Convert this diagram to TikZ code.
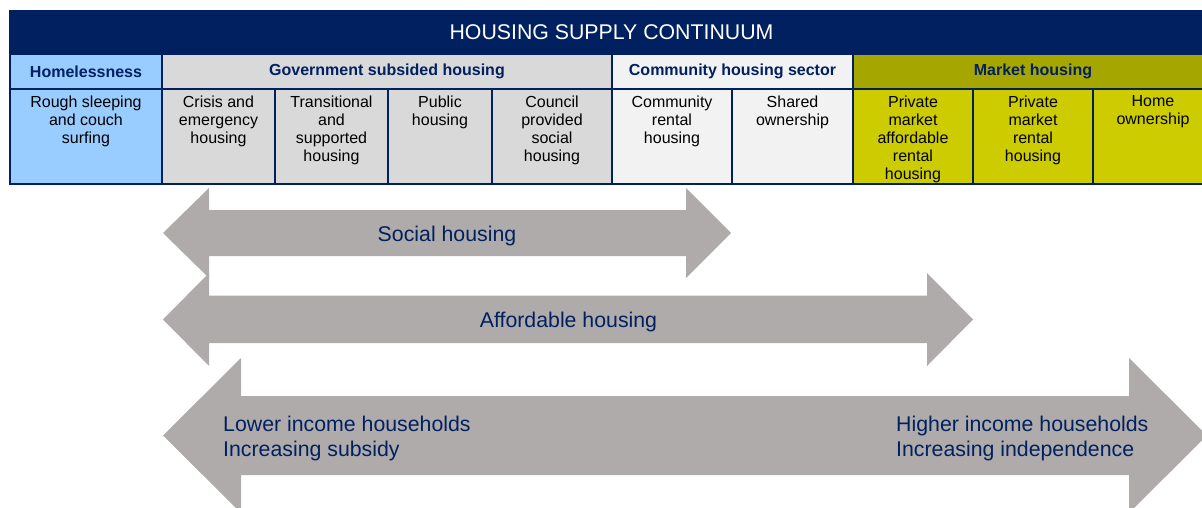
\documentclass[tikz,border=0pt]{standalone}
\usepackage{fontspec}
\setmainfont{Liberation Sans}
\definecolor{navy}{RGB}{0,32,96}
\definecolor{lblue}{RGB}{153,204,255}
\definecolor{govgrey}{RGB}{217,217,217}
\definecolor{commgrey}{RGB}{242,242,242}
\definecolor{olive}{RGB}{166,166,0}
\definecolor{mkyellow}{RGB}{204,204,0}
\definecolor{arrowgrey}{RGB}{175,171,171}
\begin{document}
\begin{tikzpicture}[x=1pt,y=-1pt,
  box/.style={draw=navy, line width=2pt, inner sep=0pt, outer sep=0pt, anchor=north west},
  titlebox/.style={box, fill=navy, minimum height=43pt, text=white, font=\fontsize{21.3}{24}\selectfont},
  hdr/.style={box, minimum height=35pt, text=navy, font=\bfseries\fontsize{16}{18}\selectfont},
  cellbox/.style={box, minimum height=95pt},
  ctext/.style={anchor=north, align=center, inner sep=0pt, text=black, font=\fontsize{16}{18}\selectfont},
  blockarrow/.style={fill=arrowgrey},
  atext/.style={inner sep=0pt, text=navy, font=\fontsize{21.3}{25}\selectfont}
]
\useasboundingbox (0,0) rectangle (1202,508);
\clip (0,0) rectangle (1202,508);

% title
\node[titlebox, minimum width=1203pt] (title) at (10,11) {HOUSING SUPPLY CONTINUUM};

% group headers
\node[hdr, fill=lblue, minimum width=152pt] (hHome) at (10,54) {\raisebox{-1pt}{Homelessness}};
\node[hdr, fill=govgrey, minimum width=450pt] (hGov) at (162,54) {\raisebox{-1pt}{Government subsided housing}};
\node[hdr, fill=commgrey, minimum width=241pt] (hComm) at (612,54) {\raisebox{-1pt}{Community housing sector}};
\node[hdr, fill=olive, minimum width=360pt] (hMkt) at (853,54) {\raisebox{-1pt}{Market housing}};

% cells
\node[cellbox, fill=lblue, minimum width=152pt] (c1) at (10,89) {};
\node[cellbox, fill=govgrey, minimum width=113pt] (c2) at (162,89) {};
\node[cellbox, fill=govgrey, minimum width=113pt] (c3) at (275,89) {};
\node[cellbox, fill=govgrey, minimum width=104pt] (c4) at (388,89) {};
\node[cellbox, fill=govgrey, minimum width=120pt] (c5) at (492,89) {};
\node[cellbox, fill=commgrey, minimum width=120pt] (c6) at (612,89) {};
\node[cellbox, fill=commgrey, minimum width=121pt] (c7) at (732,89) {};
\node[cellbox, fill=mkyellow, minimum width=120pt] (c8) at (853,89) {};
\node[cellbox, fill=mkyellow, minimum width=120pt] (c9) at (973,89) {};
\node[cellbox, fill=mkyellow, minimum width=120pt] (c10) at (1093,89) {};

\node[ctext] (t1) at ([yshift=-6.3pt]c1.north) {Rough sleeping\\and couch\\surfing};
\node[ctext] (t2) at ([yshift=-6.3pt]c2.north) {Crisis and\\emergency\\housing};
\node[ctext] (t3) at ([yshift=-6.3pt]c3.north) {Transitional\\and\\supported\\housing};
\node[ctext] (t4) at ([yshift=-6.3pt]c4.north) {Public\\housing};
\node[ctext] (t5) at ([yshift=-6.3pt]c5.north) {Council\\provided\\social\\housing};
\node[ctext] (t6) at ([yshift=-6.3pt]c6.north) {Community\\rental\\housing};
\node[ctext] (t7) at ([yshift=-6.3pt]c7.north) {Shared\\ownership};
\node[ctext] (t8) at ([yshift=-6.3pt]c8.north) {Private\\market\\affordable\\rental\\housing};
\node[ctext] (t9) at ([yshift=-6.3pt]c9.north) {Private\\market\\rental\\housing};
\node[ctext] (t10) at ([yshift=-6.3pt]c10.north) {Home\\ownership};

% block arrows
\fill[blockarrow] (163,233) -- (209,188) -- (209,210) -- (686,210) -- (686,188) -- (731,233)
  -- (686,278) -- (686,256) -- (209,256) -- (209,278) -- cycle;
\fill[blockarrow] (163,319.5) -- (209,273) -- (209,295.5) -- (927,295.5) -- (927,273) -- (973,319.5)
  -- (927,366) -- (927,343) -- (209,343) -- (209,366) -- cycle;
\fill[blockarrow] (163,435.5) -- (241,358) -- (241,396) -- (1129,396) -- (1129,358) -- (1207,435.5)
  -- (1129,513) -- (1129,475) -- (241,475) -- (241,513) -- cycle;

\node[atext, anchor=base] (social) at (447,241) {Social housing};
\node[atext, anchor=base] (afford) at (568.5,327) {Affordable housing};
\node[atext, anchor=north west, align=left] (lower) at (223,415.5) {Lower income households\\Increasing subsidy};
\node[atext, anchor=north west, align=left] (higher) at (896,415.5) {Higher income households\\Increasing independence};
\end{tikzpicture}
\end{document}
